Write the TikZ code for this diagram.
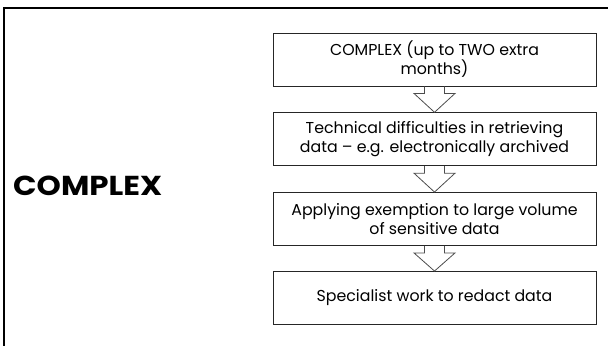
\documentclass[tikz,border=0pt]{standalone}
\usepackage{fontspec}
\setmainfont{Poppins}
\usetikzlibrary{calc}
\tikzset{
  box/.style={draw=black!85, line width=0.9pt, minimum width=323pt, minimum height=53pt, inner sep=0pt, align=center, font=\fontsize{15.8}{19}\selectfont},
  blockarrow/.style={draw=black!70, line width=0.8pt},
  frameline/.style={draw=black, line width=2pt},
  bigtitle/.style={font=\fontsize{27}{30}\selectfont\bfseries, inner sep=0pt}
}
\begin{document}
\begin{tikzpicture}[x=1pt,y=-1pt]
\useasboundingbox (0,0) rectangle (608,346);
\coordinate (ftop) at (608,8);
\coordinate (fcorner) at (3.7,8);
\coordinate (fbot) at (3.7,346);
\draw[frameline] (ftop) -- (fcorner) -- (fbot);
\node[bigtitle, anchor=base west] (title) at (13,195) {\resizebox{149pt}{19.5pt}{COMPLEX}};
\node[box] (b1) at (434.5,59.5) {COMPLEX (up to TWO extra\\months)};
\node[box] (b2) at (434.5,139.25) {Technical difficulties in retrieving\\data – e.g. electronically archived};
\node[box] (b3) at (434.5,219) {Applying exemption to large volume\\of sensitive data};
\node[box] (b4) at (434.5,298) {Specialist work to redact data};
\foreach \a/\b in {b1/b2,b2/b3,b3/b4}{
  \draw[blockarrow] ($(\a.south)+(-10,0)$) -- ++(0,7) -- ++(-10.5,0) -- (\b.north) -- ($(\a.south)+(20.5,7)$) -- ++(-10.5,0) -- ($(\a.south)+(10,0)$);
}
\end{tikzpicture}
\end{document}
